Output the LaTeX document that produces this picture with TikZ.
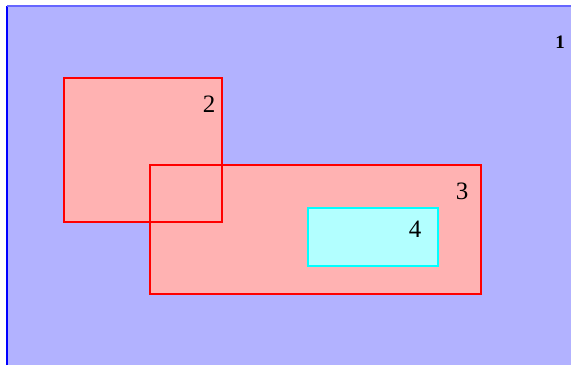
\documentclass[tikz,border=0pt]{standalone}
\usepackage{fontspec}
\setmainfont{Liberation Serif}
\definecolor{areablue}{RGB}{178,178,255}
\definecolor{areared}{RGB}{255,178,178}
\definecolor{areacyan}{RGB}{178,255,255}
\definecolor{linecyan}{RGB}{0,255,255}
\definecolor{linered}{RGB}{255,0,0}
\definecolor{lineblue}{RGB}{0,0,255}

\begin{document}
\begin{tikzpicture} [x=1pt,y=-1pt,every node/.style={inner sep=0pt,font=\fontsize{25}{25}\selectfont}]
	\useasboundingbox (0,0) rectangle (571,365);
	% outer area
	\fill [areablue] (7,6) rectangle (571,365);
	\draw [lineblue,line width=2pt] (7,365) -- (7,6);
	\draw [lineblue!60,line width=1.2pt] (7,6) -- (571,6);
	% fills first, outlines after
	\fill [areared] (64,78) rectangle (222,222);
	\fill [areared] (150,165) rectangle (481,294);
	\fill [areacyan] (308,208) rectangle (438,266);
	\draw [linered,line width=1.5pt] (64,78) rectangle (222,222);
	\draw [linered,line width=1.5pt] (150,165) rectangle (481,294);
	\draw [linecyan,line width=1.5pt] (308,208) rectangle (438,266);
	% labels
	\node (one) at (560,42) {\fontsize{19}{19}\selectfont\bfseries 1};
	\node (two) at (209,104) {2};
	\node (three) at (462,191) {3};
	\node (four) at (415,229) {4};
\end{tikzpicture}
\end{document}
